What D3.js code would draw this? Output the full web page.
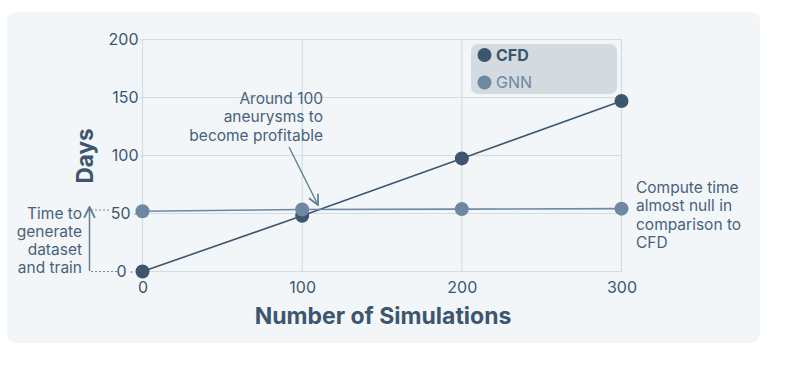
<!DOCTYPE html>
<html>
<head>
<meta charset="utf-8">
<script src="https://cdn.jsdelivr.net/npm/d3@7"></script>
<style>
  body { margin: 0; background: #fff; font-family: Inter, 'Noto Sans', sans-serif; }
  svg text { font-family: Inter, 'Noto Sans', sans-serif; }
</style>
</head>
<body>
<svg id="chart" width="785" height="365"></svg>
<script>
const simulations = [0, 100, 200, 300]
const cfdDays = [0, 48, 97.5, 147]
const gnnDays = [52, 53.5, 53.8, 54.2]
const yTicks = [0, 50, 100, 150, 200]
const xTicks = [0, 100, 200, 300]
const seriesNames = ['CFD', 'GNN']

const dark = '#3d566e'
const light = '#6f88a1'
const gridColor = '#cfdfe1'
const annoColor = '#4a6178'
const arrowColor = '#62808f'

const svg = d3.select('#chart')

// card background
svg.append('rect')
    .attr('x', 7).attr('y', 12).attr('width', 753).attr('height', 331)
    .attr('rx', 9).attr('fill', '#f2f6f9')

const x = d3.scaleLinear().domain([0, 300]).range([142.5, 621.5])
const y = d3.scaleLinear().domain([0, 200]).range([271.5, 39.5])

// grid
const grid = svg.append('g')
grid.selectAll('.vg').data(xTicks).join('line')
    .attr('x1', d => x(d)).attr('x2', d => x(d))
    .attr('y1', y(200)).attr('y2', y(0))
    .attr('stroke', gridColor).attr('stroke-width', 1.2)
grid.selectAll('.hg').data(yTicks).join('line')
    .attr('x1', x(0)).attr('x2', x(300))
    .attr('y1', d => y(d)).attr('y2', d => y(d))
    .attr('stroke', gridColor).attr('stroke-width', 1.2)

// left annotation guides (drawn under the tick labels)
svg.append('line')
    .attr('x1', 91).attr('x2', 111).attr('y1', 210).attr('y2', 210)
    .attr('stroke', light).attr('stroke-width', 1.2).attr('stroke-dasharray', '2,2')
svg.append('line')
    .attr('x1', 91).attr('x2', 117).attr('y1', y(0)).attr('y2', y(0))
    .attr('stroke', light).attr('stroke-width', 1.2).attr('stroke-dasharray', '2,2')

// axes
const yaxis = d3.axisLeft(y).tickValues(yTicks).tickSize(3).tickPadding(1)
const xaxis = d3.axisBottom(x).tickValues(xTicks).tickSize(0).tickPadding(8)

const yg = svg.append('g').attr('transform', `translate(${x(0)},0)`).call(yaxis)
const xg = svg.append('g').attr('transform', `translate(0,${y(0)})`).call(xaxis)
svg.selectAll('.domain').remove()
svg.selectAll('.tick text').attr('fill', dark).attr('font-size', 16)
xg.selectAll('.tick text').attr('dy', '0.85em')
yg.selectAll('.tick line').attr('stroke', gridColor).attr('stroke-width', 1.2)

// low ticks sit left of the markers
yg.selectAll('.tick').filter(d => d <= 50)
    .each(function (d) {
        const shift = d === 0 ? 12 : 8
        const g = d3.select(this)
        g.select('text').attr('x', -4 - shift)
        g.select('line').attr('x2', -shift).attr('x1', -shift + 4 - (d === 0 ? 2 : 0))
            .attr('stroke', light)
    })

// axis titles
svg.append('text')
    .attr('x', 383).attr('y', 324)
    .attr('text-anchor', 'middle')
    .attr('font-size', 23).attr('font-weight', 700)
    .attr('fill', dark)
    .text('Number of Simulations')

svg.append('text')
    .attr('transform', 'translate(93,156) rotate(-90)')
    .attr('text-anchor', 'middle')
    .attr('font-size', 22.5).attr('font-weight', 700)
    .attr('fill', dark)
    .text('Days')

// arrows
const defs = svg.append('defs')
defs.append('marker')
    .attr('id', 'arrow').attr('viewBox', '0 0 10 10')
    .attr('refX', 9).attr('refY', 5)
    .attr('markerWidth', 9).attr('markerHeight', 9)
    .attr('orient', 'auto-start-reverse')
    .append('path').attr('d', 'M1,1 L9,5 L1,9')
    .attr('fill', 'none').attr('stroke', arrowColor).attr('stroke-width', 1.4)

svg.append('line')
    .attr('x1', 89.5).attr('x2', 89.5).attr('y1', 271).attr('y2', 207)
    .attr('stroke', arrowColor).attr('stroke-width', 1.5)
    .attr('marker-end', 'url(#arrow)')

function multiline (lines, px, py, anchor, lh) {
    const t = svg.append('text')
        .attr('x', px).attr('y', py)
        .attr('text-anchor', anchor)
        .attr('font-size', 15.5).attr('fill', annoColor)
    lines.forEach((l, i) => {
        t.append('tspan').attr('x', px).attr('dy', i === 0 ? 0 : lh).text(l)
    })
}

multiline(['Time to', 'generate', 'dataset', 'and train'], 82, 218.5, 'end', 18.2)
multiline(['Around 100', 'aneurysms to', 'become profitable'], 323, 103.5, 'end', 18.6)
multiline(['Compute time', 'almost null in', 'comparison to', 'CFD'], 636, 193, 'start', 18.4)

// arrow to break-even point
svg.append('line')
    .attr('x1', 289).attr('y1', 147).attr('x2', 318).attr('y2', 205)
    .attr('stroke', arrowColor).attr('stroke-width', 1.4)
    .attr('marker-end', 'url(#arrow)')

// series
const line = d3.line().x((d, i) => x(simulations[i])).y(d => y(d))

function drawSeries (values, color) {
    svg.append('path').datum(values)
        .attr('d', line)
        .attr('fill', 'none').attr('stroke', color).attr('stroke-width', 1.6)
    svg.append('g').selectAll('circle').data(values).join('circle')
        .attr('cx', (d, i) => x(simulations[i]))
        .attr('cy', d => y(d))
        .attr('r', 7)
        .attr('fill', color)
}

drawSeries(cfdDays, dark)
drawSeries(gnnDays, light)

// legend
const legend = svg.append('g')
legend.append('rect')
    .attr('x', 471).attr('y', 44).attr('width', 146).attr('height', 50)
    .attr('rx', 7).attr('fill', '#d3dae0')
const colors = [dark, light]
seriesNames.forEach((name, i) => {
    legend.append('circle')
        .attr('cx', 484.5).attr('cy', 55 + i * 27.5).attr('r', 7)
        .attr('fill', colors[i])
    legend.append('text')
        .attr('x', 496).attr('y', 55 + i * 27.5).attr('dy', '0.36em')
        .attr('font-size', 16)
        .attr('font-weight', i === 0 ? 700 : 400)
        .attr('fill', colors[i])
        .text(name)
})
</script>
</body>
</html>
